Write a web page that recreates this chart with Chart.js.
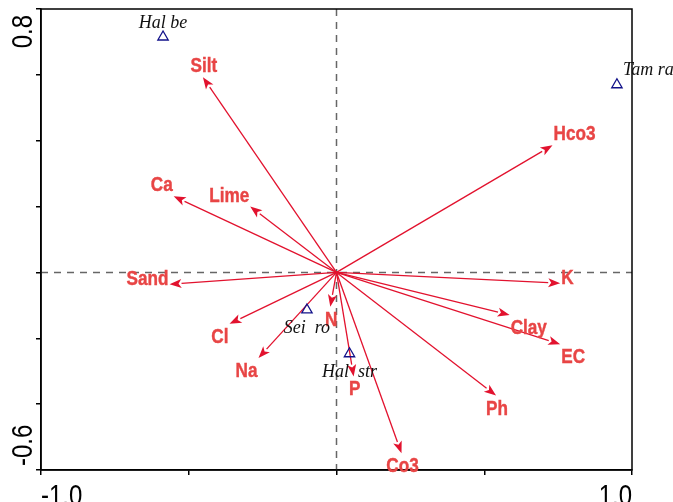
<!DOCTYPE html>
<html>
<head>
<meta charset="utf-8">
<script src="https://cdn.jsdelivr.net/npm/chart.js@4/dist/chart.umd.min.js"></script>
<style>
  html, body { margin: 0; padding: 0; background: #fff; }
  #wrap { width: 673px; height: 502px; position: relative; }
</style>
</head>
<body>
<div id="wrap"><canvas id="chart-biplot"></canvas></div>
<script>
// environmental variables (arrows)
const envNames = ['Silt', 'Ca', 'Lime', 'Hco3', 'Sand', 'Cl', 'Na', 'N', 'K', 'Clay', 'EC', 'Ph', 'Co3', 'P'];
const envX = [-0.452, -0.551, -0.292, 0.731, -0.565, -0.362, -0.264, -0.021, 0.757, 0.586, 0.757, 0.540, 0.220, 0.058];
const envY = [0.593, 0.231, 0.200, 0.386, -0.036, -0.156, -0.260, -0.104, -0.033, -0.129, -0.218, -0.374, -0.549, -0.316];

// species (triangles)
const speciesNames = ['Hal be', 'Tam ra', 'Sei  ro', 'Hal  str'];
const speciesX = [-0.587, 0.949, -0.100, 0.044];
const speciesY = [0.715, 0.570, -0.114, -0.247];

// axis
const xTickLabels = ['-1.0', '1.0'];
const yTickLabels = ['-0.6', '0.8'];

// label placement (h: l/c/r, v: t/m/b)
const envAnchor = ['cb', 'rb', 'rb', 'lb', 'rm', 'rt', 'rt', 'ct', 'lm', 'lt', 'lt', 'ct', 'ct', 'ct'];
const speciesAnchor = ['above', 'aboveRight', 'below', 'below'];

const arrowColor = '#e2122e';
const labelColor = '#e84545';
const speciesColor = '#12128a';

function condensedText(ctx, text, x, y, align, sx) {
  ctx.save();
  ctx.translate(x, y);
  ctx.scale(sx, 1);
  ctx.textAlign = align;
  ctx.fillText(text, 0, 0);
  ctx.restore();
}

const biplotPlugin = {
  id: 'biplot',
  beforeDatasetsDraw(chart) {
    const { ctx, chartArea: a, scales: { x, y } } = chart;
    const x0 = x.getPixelForValue(0);
    const y0 = y.getPixelForValue(0);

    // dashed axes through origin
    ctx.save();
    ctx.strokeStyle = '#666';
    ctx.lineWidth = 1.5;
    ctx.setLineDash([7, 6]);
    ctx.beginPath();
    ctx.moveTo(x0, a.top);
    ctx.lineTo(x0, a.bottom);
    ctx.moveTo(a.left, y0);
    ctx.lineTo(a.right, y0);
    ctx.stroke();
    ctx.restore();

    // arrows
    ctx.save();
    ctx.strokeStyle = arrowColor;
    ctx.fillStyle = arrowColor;
    ctx.lineWidth = 1.3;
    envNames.forEach((name, i) => {
      const tx = x.getPixelForValue(envX[i]);
      const ty = y.getPixelForValue(envY[i]);
      const ang = Math.atan2(ty - y0, tx - x0);
      const headLen = 12;
      const headW = 4.5;
      const bx = tx - headLen * Math.cos(ang);
      const by = ty - headLen * Math.sin(ang);
      ctx.beginPath();
      ctx.moveTo(x0, y0);
      ctx.lineTo(bx, by);
      ctx.stroke();
      ctx.beginPath();
      ctx.moveTo(tx, ty);
      ctx.lineTo(bx + headW * Math.sin(ang), by - headW * Math.cos(ang));
      ctx.lineTo(bx + 3 * Math.cos(ang), by + 3 * Math.sin(ang));
      ctx.lineTo(bx - headW * Math.sin(ang), by + headW * Math.cos(ang));
      ctx.closePath();
      ctx.fill();
    });
    ctx.restore();
  },
  afterDatasetsDraw(chart) {
    const { ctx, chartArea: a, scales: { x, y } } = chart;

    // frame
    ctx.save();
    ctx.strokeStyle = '#000';
    ctx.lineWidth = 1.5;
    ctx.strokeRect(a.left, a.top, a.right - a.left, a.bottom - a.top);
    ctx.restore();

    // arrow labels
    ctx.save();
    ctx.fillStyle = labelColor;
    ctx.strokeStyle = labelColor;
    ctx.lineWidth = 0.4;
    ctx.font = 'bold 19.5px "Liberation Sans", Arial, sans-serif';
    ctx.textBaseline = 'alphabetic';
    const capH = 14;
    envNames.forEach((name, i) => {
      const tx = x.getPixelForValue(envX[i]);
      const ty = y.getPixelForValue(envY[i]);
      const [h, v] = envAnchor[i];
      let px = tx, align = 'center';
      if (h === 'l') { px = tx + 1; align = 'left'; }
      if (h === 'r') { px = tx - 1; align = 'right'; }
      if (h === 'c') { px = tx + 1; }
      let py = ty - 5;
      if (v === 't') py = ty + 5 + capH;
      if (v === 'm') py = ty - 6 + capH / 2;
      ctx.save();
      ctx.translate(px, py);
      ctx.scale(0.88, 1);
      ctx.textAlign = align;
      ctx.fillText(name, 0, 0);
      ctx.strokeText(name, 0, 0);
      ctx.restore();
    });
    ctx.restore();

    // species labels
    ctx.save();
    ctx.fillStyle = '#111';
    ctx.font = 'italic 18px "Liberation Serif", "Times New Roman", serif';
    ctx.textBaseline = 'alphabetic';
    speciesNames.forEach((name, i) => {
      const px = x.getPixelForValue(speciesX[i]);
      const py = y.getPixelForValue(speciesY[i]);
      const pos = speciesAnchor[i];
      if (pos === 'above') {
        ctx.textAlign = 'center';
        ctx.fillText(name, px, py - 9);
      } else if (pos === 'aboveRight') {
        ctx.textAlign = 'left';
        ctx.fillText(name, px + 6, py - 10);
      } else {
        ctx.textAlign = 'center';
        ctx.fillText(name, px, py + 23);
      }
    });
    ctx.restore();

    // end tick labels
    ctx.save();
    ctx.fillStyle = '#000';
    ctx.font = '30px "Liberation Sans", Arial, sans-serif';
    ctx.textBaseline = 'alphabetic';
    condensedText(ctx, xTickLabels[0], x.getPixelForValue(x.min), a.bottom + 34.5, 'left', 0.8);
    condensedText(ctx, xTickLabels[1], x.getPixelForValue(x.max), a.bottom + 34.5, 'right', 0.8);

    const yl = [[y.getPixelForValue(y.min) - 4, 'left'], [y.getPixelForValue(y.max) + 6, 'right']];
    yl.forEach(([py, align], i) => {
      ctx.save();
      ctx.translate(32, py);
      ctx.rotate(-Math.PI / 2);
      ctx.scale(0.8, 1);
      ctx.textAlign = align;
      ctx.fillText(yTickLabels[i], 0, 0);
      ctx.restore();
    });
    ctx.restore();
  }
};

const axisOptions = (min, max, step) => ({
  type: 'linear',
  min,
  max,
  ticks: { stepSize: step, display: false },
  grid: {
    drawOnChartArea: false,
    drawTicks: true,
    tickLength: 5,
    color: '#000',
    lineWidth: 1.5
  },
  border: { display: true, color: '#000', width: 1.5 }
});

new Chart(document.getElementById('chart-biplot'), {
  type: 'scatter',
  data: {
    datasets: [{
      label: 'Species',
      data: speciesX.map((v, i) => ({ x: v, y: speciesY[i] })),
      pointStyle: 'triangle',
      radius: 6,
      borderColor: speciesColor,
      borderWidth: 1.3,
      backgroundColor: 'rgba(0,0,0,0)'
    }]
  },
  options: {
    responsive: true,
    maintainAspectRatio: false,
    animation: false,
    events: [],
    layout: { padding: { left: 36, right: 41, top: 9, bottom: 27 } },
    plugins: {
      legend: { display: false },
      tooltip: { enabled: false }
    },
    scales: {
      x: axisOptions(-1, 1, 0.5),
      y: axisOptions(-0.6, 0.8, 0.2)
    }
  },
  plugins: [biplotPlugin]
});
</script>
</body>
</html>
